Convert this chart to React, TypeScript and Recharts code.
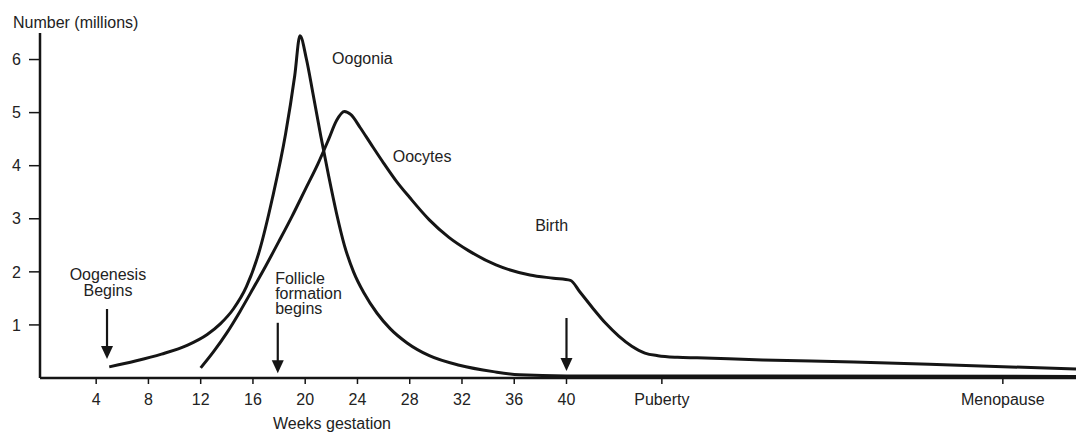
import React from 'react';
import { LineChart, Line, XAxis, YAxis, ReferenceLine, ReferenceDot, Label } from 'recharts';

// weeks of gestation (post-birth part is stretched to fit Puberty / Menopause)
const oogoniaWeeks = [5.0, 7.0, 9.0, 11.0, 12.5, 13.5, 14.5, 15.5, 16.5, 17.5, 18.5, 19.2, 19.6, 20.1, 20.6, 21.2, 21.8, 22.4, 23.0, 23.7, 24.5, 25.5, 26.5, 27.8, 29.5, 31.8, 34.4, 36.4, 40, 79];
const oogoniaMillions = [0.21, 0.32, 0.45, 0.62, 0.82, 1.02, 1.3, 1.72, 2.4, 3.4, 4.6, 5.7, 6.45, 6.0, 5.35, 4.55, 3.8, 3.1, 2.5, 2.0, 1.6, 1.22, 0.93, 0.66, 0.42, 0.24, 0.12, 0.06, 0.04, 0.03];

const oocyteWeeks = [12.0, 13.0, 14.0, 15.0, 16.0, 17.0, 18.0, 19.0, 20.0, 21.0, 21.8, 22.4, 23.0, 23.5, 24.2, 25.0, 26.0, 27.0, 28.0, 29.5, 31.0, 32.5, 34.6, 37.2, 39.0, 40.3, 41.0, 42.0, 43.0, 44.0, 45.0, 46.0, 47.0, 48.5, 50, 55, 62, 70, 79];
const oocyteMillions = [0.19, 0.5, 0.85, 1.25, 1.68, 2.12, 2.58, 3.05, 3.55, 4.05, 4.5, 4.85, 5.02, 4.96, 4.72, 4.42, 4.05, 3.7, 3.4, 2.98, 2.65, 2.4, 2.13, 1.94, 1.88, 1.84, 1.63, 1.32, 1.03, 0.79, 0.6, 0.47, 0.42, 0.39, 0.38, 0.34, 0.3, 0.24, 0.17];

const xTicks = [4, 8, 12, 16, 20, 24, 28, 32, 36, 40, 47.3, 73.4];
const xTickLabels = ['4', '8', '12', '16', '20', '24', '28', '32', '36', '40', 'Puberty', 'Menopause'];
const yTicks = [1, 2, 3, 4, 5, 6];

const oogonia = oogoniaWeeks.map((w, i) => ({ w, v: oogoniaMillions[i] }));
const oocytes = oocyteWeeks.map((w, i) => ({ w, v: oocyteMillions[i] }));

const FONT = '"Liberation Sans", Arial, sans-serif';
const INK = '#151515';
const TEXT = '#222';

const Arrow = (p: any) => {
  const { x1, y1, x2, y2 } = p;
  return (
    <g>
      <line x1={x1} y1={y1} x2={x2} y2={y2 - 10} stroke={INK} strokeWidth={2.2} />
      <polygon points={`${x2 - 6},${y2 - 13} ${x2 + 6},${y2 - 13} ${x2},${y2}`} fill={INK} />
    </g>
  );
};

const note = (lines: string[], anchor: 'start' | 'middle', lh: number) => (p: any) => (
  <text x={p.cx} y={p.cy} textAnchor={anchor} fontFamily={FONT} fontSize={16} fill={TEXT}>
    {lines.map((t, i) => (
      <tspan key={i} x={p.cx} dy={i === 0 ? 0 : lh}>{t}</tspan>
    ))}
  </text>
);

export default function App() {
  return (
    <div style={{ position: 'absolute', left: 0, top: 0, background: '#fff' }}>
      <LineChart width={1076} height={434} margin={{ top: 33, right: 0, left: 0, bottom: 0 }}>
        <XAxis
          type="number"
          dataKey="w"
          domain={[-0.3, 79]}
          ticks={xTicks}
          tickFormatter={(t: number) => xTickLabels[xTicks.indexOf(t)]}
          height={56}
          tickSize={6}
          tickMargin={10}
          axisLine={{ stroke: INK, strokeWidth: 2.5 }}
          tickLine={{ stroke: INK, strokeWidth: 1.5 }}
          tick={{ fontFamily: FONT, fontSize: 16, fill: TEXT }}
          interval={0}
          allowDataOverflow
        >
          <Label
            content={({ viewBox }: any) => (
              <text x={viewBox.x + 292} y={viewBox.y + 51} textAnchor="middle" fontFamily={FONT} fontSize={16} fill={TEXT}>
                Weeks gestation
              </text>
            )}
          />
        </XAxis>
        <YAxis
          type="number"
          domain={[0, 6.5]}
          ticks={yTicks}
          width={40}
          tickSize={11}
          tickMargin={8}
          axisLine={{ stroke: INK, strokeWidth: 2.5 }}
          tickLine={{ stroke: INK, strokeWidth: 1.5 }}
          tick={{ fontFamily: FONT, fontSize: 16, fill: TEXT }}
          allowDataOverflow
        >
          <Label
            content={({ viewBox }: any) => (
              <text x={viewBox.x + 13} y={28} fontFamily={FONT} fontSize={16} fill={TEXT}>
                Number (millions)
              </text>
            )}
          />
        </YAxis>
        <Line data={oogonia} dataKey="v" type="monotone" stroke={INK} strokeWidth={3} dot={false} isAnimationActive={false} />
        <Line data={oocytes} dataKey="v" type="monotone" stroke={INK} strokeWidth={3} dot={false} isAnimationActive={false} />

        <ReferenceLine segment={[{ x: 4.83, y: 1.3 }, { x: 4.83, y: 0.36 }]} shape={Arrow} />
        <ReferenceLine segment={[{ x: 17.9, y: 1.04 }, { x: 17.9, y: 0.09 }]} shape={Arrow} />
        <ReferenceLine segment={[{ x: 40, y: 1.13 }, { x: 40, y: 0.13 }]} shape={Arrow} />

        <ReferenceDot x={22.06} y={5.92} r={0} shape={note(['Oogonia'], 'start', 0)} />
        <ReferenceDot x={26.7} y={4.07} r={0} shape={note(['Oocytes'], 'start', 0)} />
        <ReferenceDot x={37.6} y={2.77} r={0} shape={note(['Birth'], 'start', 0)} />
        <ReferenceDot x={4.9} y={1.85} r={0} shape={note(['Oogenesis', 'Begins'], 'middle', 16)} />
        <ReferenceDot x={17.7} y={1.77} r={0} shape={note(['Follicle', 'formation', 'begins'], 'start', 15)} />
      </LineChart>
    </div>
  );
}
